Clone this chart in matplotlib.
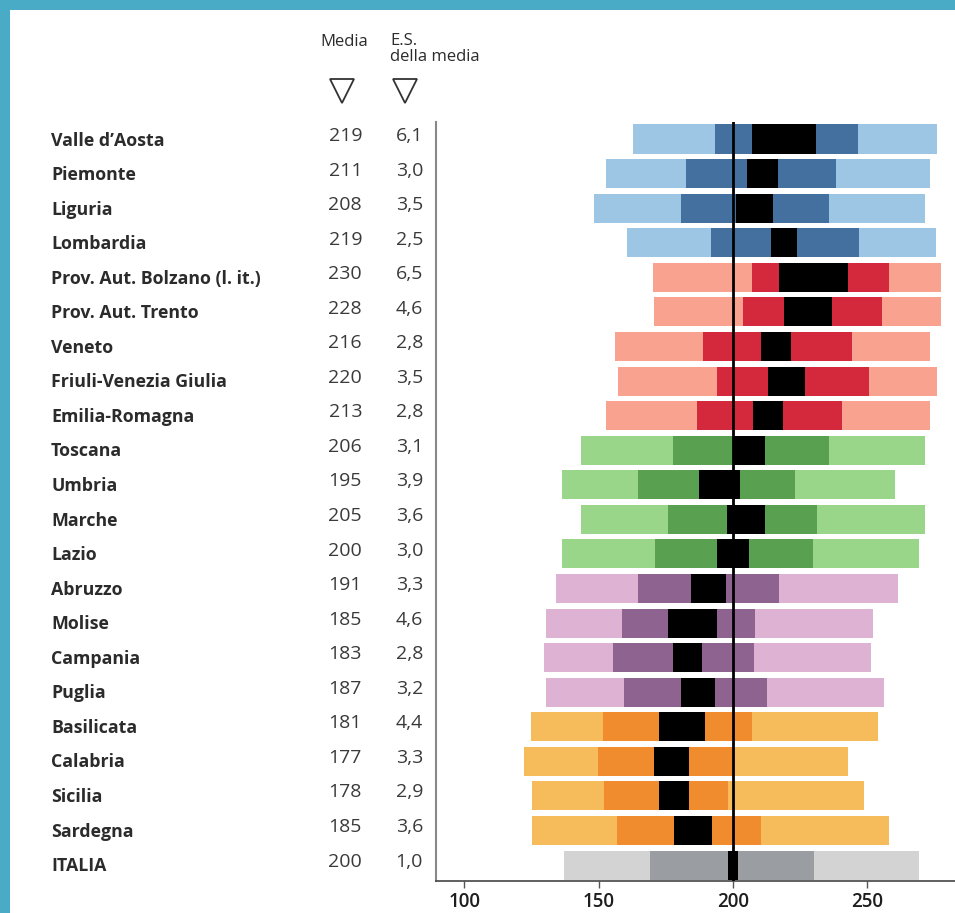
import matplotlib
matplotlib.use("Agg")
import matplotlib.pyplot as plt
from matplotlib.lines import Line2D
from matplotlib.patches import Rectangle

regions = ["Valle d\u2019Aosta", "Piemonte", "Liguria", "Lombardia",
           "Prov. Aut. Bolzano (l. it.)", "Prov. Aut. Trento", "Veneto",
           "Friuli-Venezia Giulia", "Emilia-Romagna", "Toscana", "Umbria",
           "Marche", "Lazio", "Abruzzo", "Molise", "Campania", "Puglia",
           "Basilicata", "Calabria", "Sicilia", "Sardegna", "ITALIA"]
media = [219, 211, 208, 219, 230, 228, 216, 220, 213, 206, 195, 205, 200,
         191, 185, 183, 187, 181, 177, 178, 185, 200]
es = [6.1, 3.0, 3.5, 2.5, 6.5, 4.6, 2.8, 3.5, 2.8, 3.1, 3.9, 3.6, 3.0,
      3.3, 4.6, 2.8, 3.2, 4.4, 3.3, 2.9, 3.6, 1.0]
p5 = [162.7, 152.7, 148.1, 160.4, 170.1, 170.6, 156.1, 157.1, 152.7, 143.4,
      136.5, 143.4, 136.5, 134.2, 130.4, 129.5, 130.4, 125.0, 122.2, 125.3,
      125.3, 137.3]
p25 = [193.3, 182.7, 180.6, 191.8, 207.0, 203.8, 189.0, 193.9, 186.6, 177.5,
       164.5, 176.0, 171.1, 164.5, 158.6, 155.5, 159.4, 151.6, 149.9, 152.1,
       157.0, 169.1]
p75 = [246.6, 238.3, 235.8, 247.0, 258.1, 255.3, 244.2, 250.7, 240.7, 235.6,
       223.1, 231.4, 229.7, 217.1, 208.3, 207.8, 212.5, 207.0, 200.0, 198.3,
       210.3, 230.1]
p95 = [276.0, 273.3, 271.4, 275.5, 277.4, 277.4, 273.3, 276.0, 273.3, 271.4,
       260.4, 271.4, 269.1, 261.4, 252.0, 251.2, 256.2, 254.0, 242.9, 248.9,
       258.1, 269.1]
groups = ["blue"] * 4 + ["red"] * 5 + ["green"] * 4 + ["purple"] * 4 + ["orange"] * 4 + ["gray"]
palette = {
    "blue": ("#9cc6e3", "#43709f"),
    "red": ("#f9a290", "#d4283d"),
    "green": ("#99d689", "#59a150"),
    "purple": ("#ddb2d2", "#8f638f"),
    "orange": ("#f6bc5b", "#f08c2e"),
    "gray": ("#d3d3d3", "#9a9ea3"),
}
xticks = [100, 150, 200, 250]

W, H = 955, 913
fig = plt.figure(figsize=(W / 100, H / 100), dpi=100)
fig.patch.set_facecolor("white")

# teal frame
fig.add_artist(Rectangle((0, 1 - 10 / H), 1, 10 / H, transform=fig.transFigure,
                         facecolor="#4aabc6", edgecolor="none"))
fig.add_artist(Rectangle((0, 0), 10 / W, 1, transform=fig.transFigure,
                         facecolor="#4aabc6", edgecolor="none"))

ax = fig.add_axes([436 / W, 1 - 881 / H, 1 - 436 / W, (881 - 121.7) / H])
n = len(regions)
h = 0.84
for i in range(n):
    light, dark = palette[groups[i]]
    ax.barh(i, p95[i] - p5[i], left=p5[i], height=h, color=light, linewidth=0)
    ax.barh(i, p75[i] - p25[i], left=p25[i], height=h, color=dark, linewidth=0)
    lo = media[i] - 1.96 * es[i]
    hi = media[i] + 1.96 * es[i]
    ax.barh(i, hi - lo, left=lo, height=h, color="black", linewidth=0)

ax.axvline(200, color="black", lw=2, zorder=5)
ax.set_xlim(89.5, 282.6)
ax.set_ylim(21.46, -0.5)
ax.set_yticks([])
ax.set_xticks(xticks)
ax.set_xticklabels([str(t) for t in xticks], fontsize=13.5, color="#1e1e1e",
                   family="Open Sans", fontweight="semibold")
ax.tick_params(axis="x", length=5, width=1, color="#555", pad=3)
for s in ["top", "right"]:
    ax.spines[s].set_visible(False)
ax.spines["left"].set_color("#888")
ax.spines["left"].set_linewidth(1.5)
ax.spines["bottom"].set_color("#444")
ax.spines["bottom"].set_linewidth(1.2)

# row texts
for i in range(n):
    y_px = 139 + i * 34.55
    yf = 1 - (y_px + 1.5) / H
    ynum = 1 - (y_px - 3) / H
    fig.text(51 / W, yf, regions[i], ha="left", va="center", fontsize=12.8,
             fontweight="bold", color="#2b2b2b", family="Open Sans")
    fig.text(362 / W, ynum, str(media[i]), ha="right", va="center", fontsize=14,
             color="#3a3a3a", family="Open Sans")
    fig.text(423 / W, ynum, f"{es[i]:.1f}".replace(".", ","), ha="right",
             va="center", fontsize=14, color="#3a3a3a", family="Open Sans")

# headers
fig.text(344 / W, 1 - 42 / H, "Media", ha="center", va="center", fontsize=12,
         color="#2b2b2b", family="Open Sans")
fig.text(390 / W, 1 - 49 / H, "E.S.\ndella media", ha="left", va="center",
         fontsize=12, color="#2b2b2b", family="Open Sans", linespacing=0.95)
for xp in (342, 405):
    fig.add_artist(Line2D([xp / W], [1 - 91 / H], marker="v", markersize=17,
                          mfc="none", mec="#333", mew=1.3,
                          transform=fig.transFigure))

fig.savefig("out.png", dpi=100)
